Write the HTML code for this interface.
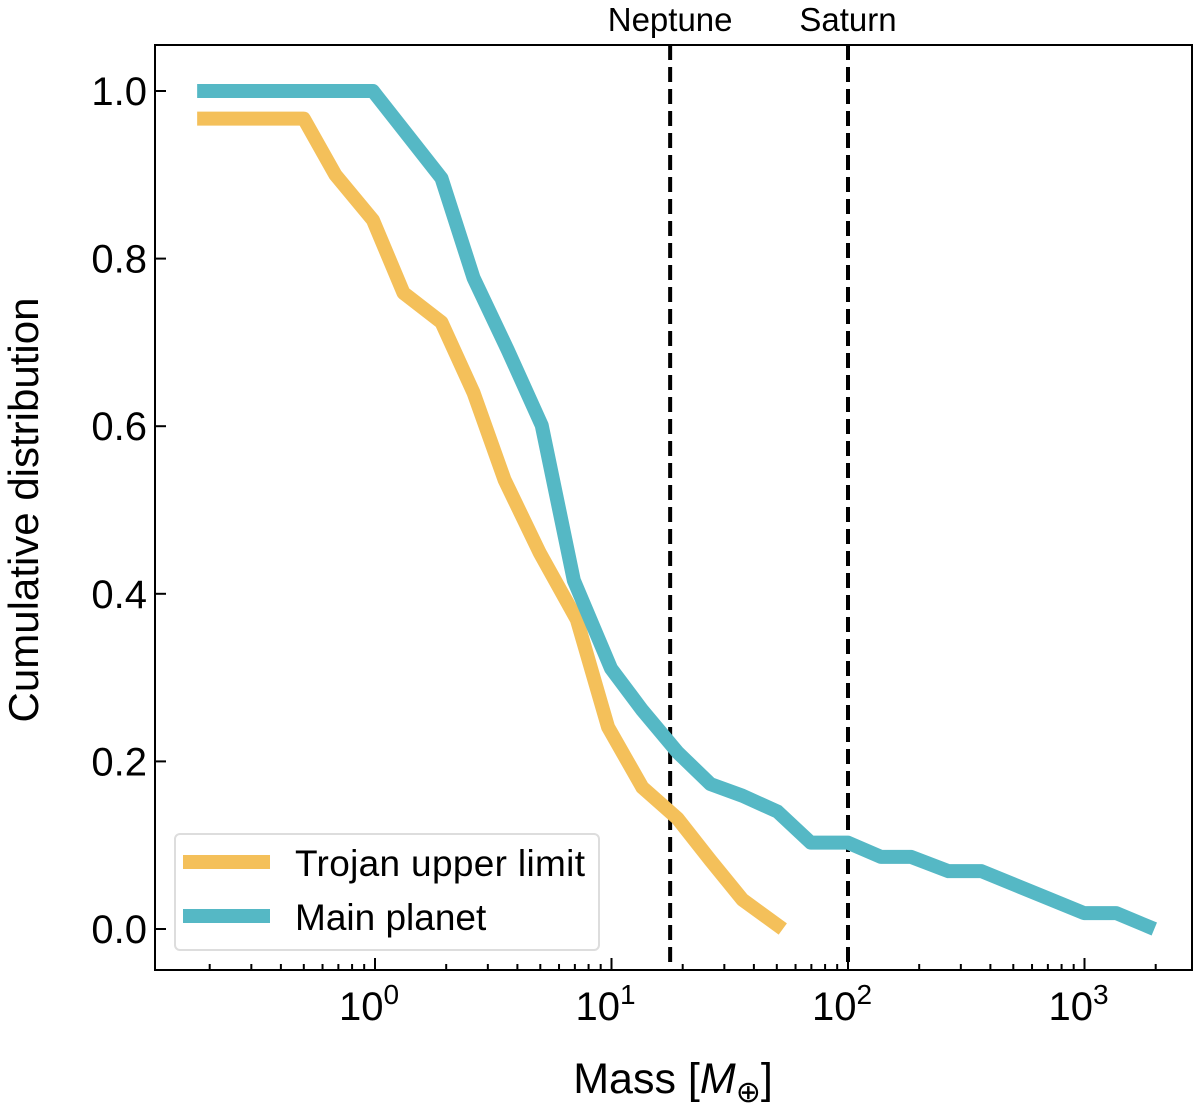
<!DOCTYPE html>
<html><head><meta charset="utf-8"><style>
body{margin:0;background:#fff;}
svg text{font-family:"Liberation Sans",sans-serif;fill:#000;}
</style></head><body>
<svg id="chart" width="1200" height="1107" viewBox="0 0 1200 1107"></svg>
<script>
const trojanMass=[0.177,0.50,0.68,0.98,1.32,1.91,2.61,3.53,4.97,7.14,9.67,13.5,19.0,26.2,35.8,53];
const trojanCdf=[0.967,0.967,0.90,0.846,0.759,0.724,0.640,0.536,0.449,0.369,0.241,0.169,0.132,0.082,0.035,0.0];
const mainMass=[0.177,0.98,1.91,2.61,3.64,5.07,6.93,9.95,13.5,19.0,26.2,35.8,50.4,69.6,100,138,185,266,367,995,1361,1973];
const mainCdf=[1.0,1.0,0.896,0.777,0.691,0.601,0.416,0.311,0.261,0.211,0.173,0.159,0.140,0.103,0.103,0.086,0.086,0.069,0.069,0.019,0.019,0.0];
const yTicks=[0.0,0.2,0.4,0.6,0.8,1.0];
const yTickLabels=["0.0","0.2","0.4","0.6","0.8","1.0"];
const xDecades=[0,1,2,3];
const refMass=[17.7,100];
const refNames=["Neptune","Saturn"];

const NS="http://www.w3.org/2000/svg";
const svg=document.getElementById('chart');
const L=155,R=1192,T=45,B=970;
const xs=m=>375+Math.log10(m)*236.5;
const ys=v=>929-v*838;
function el(tag,attrs,parent){const e=document.createElementNS(NS,tag);for(const k in attrs)e.setAttribute(k,attrs[k]);(parent||svg).appendChild(e);return e;}

const frame=el('rect',{x:L,y:T,width:R-L,height:B-T,fill:'none',stroke:'#000','stroke-width':2});



yTicks.forEach((v,i)=>{
  const t=el('line',{x1:L,x2:L+11,y1:ys(v),y2:ys(v),stroke:'#000','stroke-width':2});
  
  
  const lb=el('text',{x:L-8,y:ys(v)+14,'text-anchor':'end','font-size':40});
  lb.textContent=yTickLabels[i];
  
  
});
for(let d=-1;d<=3;d++){
  for(let k=1;k<10;k++){
    const m=k*Math.pow(10,d);const x=xs(m);
    if(x<=L+1||x>=R-1)continue;
    const major=k===1;
    const t=el('line',{x1:x,x2:x,y1:B,y2:B-(major?12:6),stroke:'#000','stroke-width':2});
    
    
  }
}
xDecades.forEach(d=>{
  const x=xs(Math.pow(10,d));
  const lb=el('text',{x:x-6,y:1020,'text-anchor':'middle','font-size':40});
  lb.textContent='10';
  const sup=el('tspan',{dy:-16,'font-size':28},lb);sup.textContent=String(d);
  
  
});

refMass.forEach((m,i)=>{
  const x=xs(m);
  const ln=el('line',{x1:x,x2:x,y1:T,y2:B,stroke:'#000','stroke-width':4,'stroke-dasharray':'15,7'});
  
  
  const lb=el('text',{x:x,y:31,'text-anchor':'middle','font-size':33});
  lb.textContent=refNames[i];
  
  
});

function series(ms,vs,color,name){
  const p=el('polyline',{points:ms.map((m,i)=>xs(m)+','+ys(vs[i])).join(' '),fill:'none',stroke:color,'stroke-width':14,'stroke-linejoin':'round'});
  
  
}
series(trojanMass,trojanCdf,'#f4c05a','trojan-upper-limit-line');
series(mainMass,mainCdf,'#55b8c5','main-planet-line');

const lg=el('g',{});


el('rect',{x:175,y:834,width:424,height:116,rx:5,fill:'#fff','fill-opacity':0.85,stroke:'#ddd','stroke-width':2},lg);
el('line',{x1:183,x2:270,y1:862,y2:862,stroke:'#f4c05a','stroke-width':14},lg);
el('line',{x1:183,x2:270,y1:916,y2:916,stroke:'#55b8c5','stroke-width':14},lg);
const t1=el('text',{x:295,y:876,'font-size':37,textLength:290},lg);t1.textContent='Trojan upper limit';


const t2=el('text',{x:295,y:930,'font-size':37},lg);t2.textContent='Main planet';



const yt=el('text',{x:0,y:0,'text-anchor':'middle','font-size':42,transform:'translate(38,510) rotate(-90)'});
yt.textContent='Cumulative distribution';


const xt=el('text',{x:673,y:1093,'text-anchor':'middle','font-size':43});
xt.innerHTML='Mass [<tspan font-style="italic">M</tspan><tspan font-size="30" dy="9">⊕</tspan><tspan dy="-9">]</tspan>';


</script>
</body></html>
